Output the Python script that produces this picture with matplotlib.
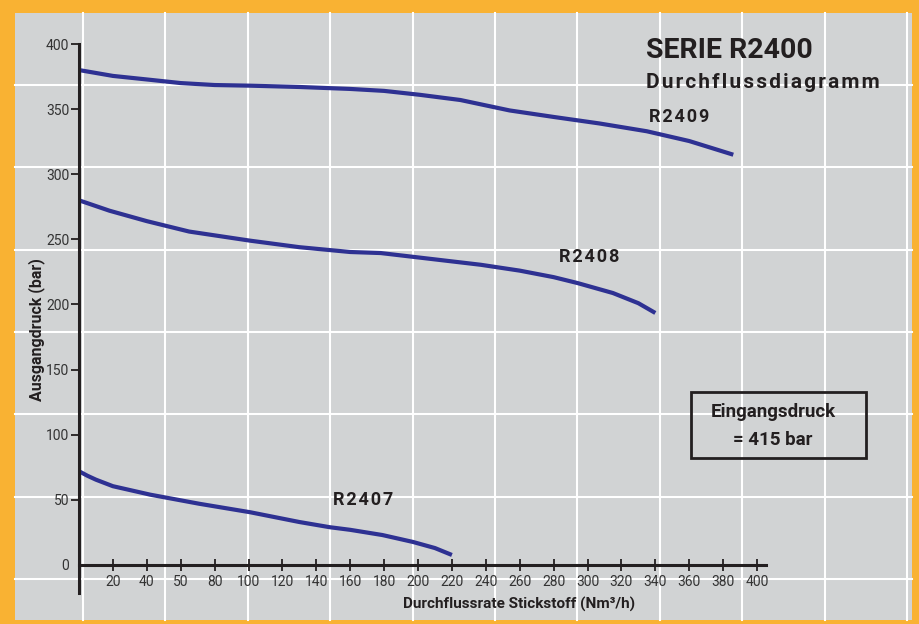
"""Durchflussdiagramm Serie R2400 - Ausgangdruck vs. Durchflussrate"""

import numpy as np
import matplotlib.pyplot as plt
from matplotlib.patches import Rectangle
from matplotlib.lines import Line2D

# Flow curves (Nm3/h, bar)
r2409_x = [0, 20, 42, 60, 80, 101, 130, 160, 180, 201, 225, 254, 280, 307, 335, 360, 386]
r2409_y = [380, 375.5, 372.5, 370, 368.5, 368, 367, 365.5, 364, 361, 357, 349, 344, 339, 333, 325.5, 315]

r2408_x = [0, 18, 40, 65, 101, 130, 160, 178, 201, 237, 260, 280, 294, 315, 330, 340]
r2408_y = [280, 272, 264, 256, 249, 244, 240.3, 239.5, 236, 230.5, 226, 221, 216.5, 208.8, 201, 193.5]

r2407_x = [0, 5, 10, 20, 42, 71, 101, 130, 148, 160, 179, 197, 210, 220]
r2407_y = [72, 68.5, 65.5, 60.5, 54, 47, 40.5, 33, 29, 27, 23, 17.7, 13, 7.7]

x_ticks = [20, 40, 60, 80, 100, 120, 140, 160, 180, 200, 220, 240, 260, 280, 300, 320, 340, 360, 380, 400]
x_labels = ['20', '40', '50', '80', '100', '120', '140', '160', '180', '200', '220', '240',
            '260', '280', '300', '320', '340', '360', '380', '400']
y_ticks = [0, 50, 100, 150, 200, 250, 300, 350, 400]

BLUE = '#2e3192'
DARK = '#231f20'
W, H = 920, 624

plt.rcParams['font.family'] = ['Roboto', 'DejaVu Sans']


def spaced(s, n=1):
    # poor man's letter spacing with hair spaces
    return ('\u200a' * n).join(s)


fig = plt.figure(figsize=(9.2, 6.24), dpi=100, facecolor='#f9b233')

# grey panel + white background grid (decoration, in pixels)
fig.patches.append(Rectangle((15 / W, 4 / H), (912 - 15) / W, (611 - 4) / H,
                             transform=fig.transFigure, facecolor='#d1d3d4',
                             edgecolor='none', zorder=-3))
for px in np.arange(83, 912, 82.4):
    fig.lines.append(Line2D([px / W, px / W], [4 / H, 611 / H], transform=fig.transFigure,
                            color='white', lw=1.5, zorder=-2))
for py in np.arange(85, 620, 82.3):
    fig.lines.append(Line2D([15 / W, 912 / W], [1 - py / H, 1 - py / H], transform=fig.transFigure,
                            color='white', lw=1.5, zorder=-2))

# axes: x 0 -> px 79, 400 -> px 757 ; y 0 -> px 565, 400 -> px 44
ax = fig.add_axes([79 / W, 1 - 593 / H, (766 - 79) / W, (593 - 44) / H])
ax.set_facecolor('none')
ax.set_xlim(0, 405.3)
ax.set_ylim(-21.5, 400)

ax.plot(r2409_x, r2409_y, color=BLUE, lw=3, solid_capstyle='butt', solid_joinstyle='round')
ax.plot(r2408_x, r2408_y, color=BLUE, lw=3, solid_capstyle='butt', solid_joinstyle='round')
ax.plot(r2407_x, r2407_y, color=BLUE, lw=3, solid_capstyle='butt', solid_joinstyle='round')

for s in ['top', 'right']:
    ax.spines[s].set_visible(False)
ax.spines['bottom'].set_position(('data', 0))
for s in ['left', 'bottom']:
    ax.spines[s].set_linewidth(2.2)
    ax.spines[s].set_color(DARK)

ax.set_xticks(x_ticks)
ax.set_xticklabels(x_labels)
ax.set_yticks(y_ticks)
ax.tick_params(axis='x', direction='inout', length=8, width=1.3, color=DARK,
               labelsize=10, labelcolor='#333333', pad=3)
ax.tick_params(axis='y', direction='out', length=6, width=1.3, color=DARK,
               labelsize=10, labelcolor='#333333', pad=1)
ax.yaxis.get_major_ticks()[0].tick1line.set_visible(False)

ax.set_xlabel('Durchflussrate Stickstoff (Nm³/h)', fontsize=11, fontweight='bold',
              color=DARK, va='center')
ax.xaxis.set_label_coords((519 - 79) / (766 - 79), (593 - 604) / (593 - 44))
ax.set_ylabel('Ausgangdruck (bar)', fontsize=11.5, fontweight='bold', color=DARK,
              va='center')
ax.yaxis.set_label_coords((37 - 79) / (766 - 79), (593 - 330) / (593 - 44))

# curve labels
lab = dict(fontsize=13, fontweight='bold', color=DARK, ha='center', va='center')
ax.text(354, 344, spaced('R2409'), **lab)
ax.text(301, 236.5, spaced('R2408'), **lab)
ax.text(167.5, 50, spaced('R2407'), **lab)

# title block
fig.text(646 / W, 1 - 50 / H, 'SERIE R2400', fontsize=20.5, fontweight='bold',
         color=DARK, ha='left', va='center')
fig.text(646 / W, 1 - 83 / H, spaced('Durchflussdiagramm'), fontsize=15, fontweight='bold',
         color=DARK, ha='left', va='center')

# inlet pressure box
fig.patches.append(Rectangle((691 / W, 1 - 458 / H), (866 - 691) / W, (458 - 392) / H,
                             transform=fig.transFigure, facecolor='none',
                             edgecolor=DARK, lw=2))
fig.text(773 / W, 1 - 412 / H, 'Eingangsdruck', fontsize=13.5, fontweight='bold',
         color=DARK, ha='center', va='center')
fig.text(773 / W, 1 - 440 / H, '= 415 bar', fontsize=13.5, fontweight='bold',
         color=DARK, ha='center', va='center')

plt.savefig('out.png', dpi=100, facecolor=fig.get_facecolor())
